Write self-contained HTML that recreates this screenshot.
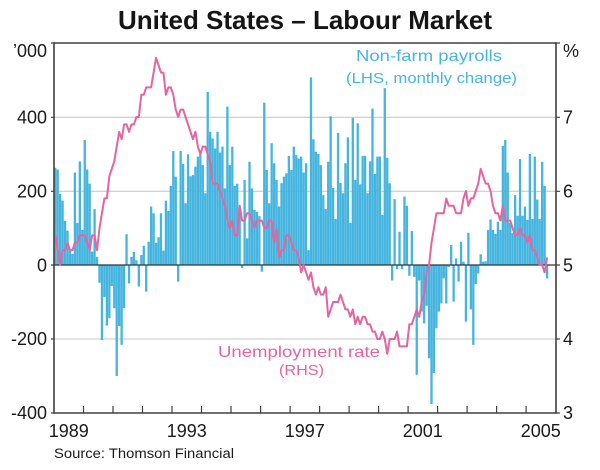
<!DOCTYPE html>
<html><head><meta charset="utf-8"><style>
html,body{margin:0;padding:0;background:#fff;}
svg{display:block;}
text{font-family:"Liberation Sans",Arial,sans-serif;}
</style></head><body>
<svg width="600" height="470" viewBox="0 0 600 470" xmlns="http://www.w3.org/2000/svg">
<rect width="600" height="470" fill="#fff"/>
<text x="305" y="29" text-anchor="middle" font-size="26" font-weight="bold" fill="#151515" textLength="374" lengthAdjust="spacingAndGlyphs">United States – Labour Market</text>
<g stroke="#c4c4c4" stroke-width="1">
<line x1="54" y1="117.3" x2="556" y2="117.3"/>
<line x1="54" y1="191.3" x2="556" y2="191.3"/>
<line x1="54" y1="339" x2="556" y2="339"/>
</g>
<path transform="translate(54,265) scale(2.4593,-0.37)" fill="#45b5e0" d="M0.03 0V263h.94V0zM1.03 0V258h.94V0zM2.03 0V192h.94V0zM3.03 0V174h.94V0zM4.03 0V119h.94V0zM5.03 0V93h.94V0zM6.03 0V40h.94V0zM7.03 0V30h.94V0zM8.03 0V250h.94V0zM9.03 0V114h.94V0zM10.03 0V280h.94V0zM11.03 0V95h.94V0zM12.03 0V338h.94V0zM13.03 0V258h.94V0zM14.03 0V220h.94V0zM15.03 0V36h.94V0zM16.03 0V151h.94V0zM17.03 0V22h.94V0zM18.03 0V-48h.94V0zM19.03 0V-203h.94V0zM20.03 0V-86h.94V0zM21.03 0V-164h.94V0zM22.03 0V-144h.94V0zM23.03 0V-57h.94V0zM24.03 0V-117h.94V0zM25.03 0V-300h.94V0zM26.03 0V-165h.94V0zM27.03 0V-216h.94V0zM28.03 0V-117h.94V0zM29.03 0V83h.94V0zM30.03 0V-50h.94V0zM31.03 0V22h.94V0zM32.03 0V35h.94V0zM33.03 0V13h.94V0zM34.03 0V-58h.94V0zM35.03 0V27h.94V0zM36.03 0V52h.94V0zM37.03 0V-72h.94V0zM38.03 0V63h.94V0zM39.03 0V158h.94V0zM40.03 0V140h.94V0zM41.03 0V60h.94V0zM42.03 0V75h.94V0zM43.03 0V140h.94V0zM44.03 0V39h.94V0zM45.03 0V174h.94V0zM46.03 0V146h.94V0zM47.03 0V214h.94V0zM48.03 0V308h.94V0zM49.03 0V239h.94V0zM50.03 0V-45h.94V0zM51.03 0V308h.94V0zM52.03 0V273h.94V0zM53.03 0V167h.94V0zM54.03 0V299h.94V0zM55.03 0V240h.94V0zM56.03 0V243h.94V0zM57.03 0V266h.94V0zM58.03 0V293h.94V0zM59.03 0V302h.94V0zM60.03 0V270h.94V0zM61.03 0V194h.94V0zM62.03 0V468h.94V0zM63.03 0V360h.94V0zM64.03 0V342h.94V0zM65.03 0V315h.94V0zM66.03 0V360h.94V0zM67.03 0V304h.94V0zM68.03 0V320h.94V0zM69.03 0V207h.94V0zM70.03 0V428h.94V0zM71.03 0V270h.94V0zM72.03 0V320h.94V0zM73.03 0V214h.94V0zM74.03 0V220h.94V0zM75.03 0V153h.94V0zM76.03 0V-8h.94V0zM77.03 0V230h.94V0zM78.03 0V72h.94V0zM79.03 0V279h.94V0zM80.03 0V207h.94V0zM81.03 0V149h.94V0zM82.03 0V144h.94V0zM83.03 0V132h.94V0zM84.03 0V-18h.94V0zM85.03 0V439h.94V0zM86.03 0V257h.94V0zM87.03 0V167h.94V0zM88.03 0V329h.94V0zM89.03 0V275h.94V0zM90.03 0V230h.94V0zM91.03 0V158h.94V0zM92.03 0V221h.94V0zM93.03 0V239h.94V0zM94.03 0V248h.94V0zM95.03 0V295h.94V0zM96.03 0V257h.94V0zM97.03 0V320h.94V0zM98.03 0V297h.94V0zM99.03 0V288h.94V0zM100.03 0V293h.94V0zM101.03 0V250h.94V0zM102.03 0V275h.94V0zM103.03 0V40h.94V0zM104.03 0V507h.94V0zM105.03 0V340h.94V0zM106.03 0V306h.94V0zM107.03 0V300h.94V0zM108.03 0V270h.94V0zM109.03 0V189h.94V0zM110.03 0V151h.94V0zM111.03 0V279h.94V0zM112.03 0V402h.94V0zM113.03 0V208h.94V0zM114.03 0V124h.94V0zM115.03 0V357h.94V0zM116.03 0V222h.94V0zM117.03 0V194h.94V0zM118.03 0V275h.94V0zM119.03 0V345h.94V0zM120.03 0V114h.94V0zM121.03 0V398h.94V0zM122.03 0V230h.94V0zM123.03 0V383h.94V0zM124.03 0V218h.94V0zM125.03 0V295h.94V0zM126.03 0V295h.94V0zM127.03 0V194h.94V0zM128.03 0V280h.94V0zM129.03 0V423h.94V0zM130.03 0V246h.94V0zM131.03 0V293h.94V0zM132.03 0V293h.94V0zM133.03 0V135h.94V0zM134.03 0V478h.94V0zM135.03 0V290h.94V0zM136.03 0V221h.94V0zM137.03 0V-42h.94V0zM138.03 0V178h.94V0zM139.03 0V-11h.94V0zM140.03 0V90h.94V0zM141.03 0V-11h.94V0zM142.03 0V185h.94V0zM143.03 0V160h.94V0zM144.03 0V-29h.94V0zM145.03 0V92h.94V0zM146.03 0V-32h.94V0zM147.03 0V-297h.94V0zM148.03 0V-42h.94V0zM149.03 0V-126h.94V0zM150.03 0V-158h.94V0zM151.03 0V-110h.94V0zM152.03 0V-252h.94V0zM153.03 0V-376h.94V0zM154.03 0V-292h.94V0zM155.03 0V-171h.94V0zM156.03 0V-126h.94V0zM157.03 0V-104h.94V0zM158.03 0V-36h.94V0zM159.03 0V-104h.94V0zM160.03 0V-5h.94V0zM161.03 0V54h.94V0zM162.03 0V-99h.94V0zM163.03 0V18h.94V0zM164.03 0V-45h.94V0zM165.03 0V63h.94V0zM166.03 0V9h.94V0zM167.03 0V-153h.94V0zM168.03 0V87h.94V0zM169.03 0V-120h.94V0zM170.03 0V-216h.94V0zM171.03 0V-51h.94V0zM172.03 0V-23h.94V0zM173.03 0V29h.94V0zM174.03 0V9h.94V0zM175.03 0V10h.94V0zM176.03 0V95h.94V0zM177.03 0V123h.94V0zM178.03 0V95h.94V0zM179.03 0V84h.94V0zM180.03 0V117h.94V0zM181.03 0V95h.94V0zM182.03 0V322h.94V0zM183.03 0V338h.94V0zM184.03 0V250h.94V0zM185.03 0V114h.94V0zM186.03 0V86h.94V0zM187.03 0V189h.94V0zM188.03 0V133h.94V0zM189.03 0V286h.94V0zM190.03 0V133h.94V0zM191.03 0V158h.94V0zM192.03 0V122h.94V0zM193.03 0V300h.94V0zM194.03 0V124h.94V0zM195.03 0V293h.94V0zM196.03 0V177h.94V0zM197.03 0V124h.94V0zM198.03 0V279h.94V0zM199.03 0V214h.94V0zM200.03 0V-36h.94V0z"/>
<line x1="54" y1="265" x2="556" y2="265" stroke="#333" stroke-width="1.3"/>
<polyline transform="translate(54,265) scale(2.4593,-74)" fill="none" stroke="#e6649f" stroke-width="2" stroke-linejoin="round" vector-effect="non-scaling-stroke" points="0.5,.4 1.5,.2 2.5,0 3.5,.2 4.5,.2 5.5,.3 6.5,.2 7.5,.2 8.5,.3 9.5,.3 10.5,.4 11.5,.4 12.5,.4 13.5,.3 14.5,.2 15.5,.4 16.5,.4 17.5,.2 18.5,.5 19.5,.7 20.5,.9 21.5,.9 22.5,1.2 23.5,1.3 24.5,1.4 25.5,1.6 26.5,1.8 27.5,1.7 28.5,1.9 29.5,1.9 30.5,1.8 31.5,1.9 32.5,1.9 33.5,2 34.5,2 35.5,2.3 36.5,2.3 37.5,2.4 38.5,2.4 39.5,2.4 40.5,2.6 41.5,2.8 42.5,2.7 43.5,2.6 44.5,2.6 45.5,2.3 46.5,2.4 47.5,2.4 48.5,2.3 49.5,2.1 50.5,2 51.5,2.1 52.5,2.1 53.5,2 54.5,1.9 55.5,1.8 56.5,1.7 57.5,1.8 58.5,1.6 59.5,1.5 60.5,1.6 61.5,1.6 62.5,1.5 63.5,1.4 64.5,1.1 65.5,1.1 66.5,1.1 67.5,1 68.5,.9 69.5,.8 70.5,.6 71.5,.5 72.5,.6 73.5,.4 74.5,.4 75.5,.8 76.5,.6 77.5,.6 78.5,.7 79.5,.7 80.5,.6 81.5,.5 82.5,.6 83.5,.6 84.5,.6 85.5,.5 86.5,.5 87.5,.6 88.5,.6 89.5,.3 90.5,.5 91.5,.1 92.5,.2 93.5,.2 94.5,.4 95.5,.4 96.5,.3 97.5,.2 98.5,.2 99.5,.1 100.5,-.1 101.5,0 102.5,-.1 103.5,-.2 104.5,-.1 105.5,-.3 106.5,-.4 107.5,-.3 108.5,-.4 109.5,-.4 110.5,-.3 111.5,-.7 112.5,-.6 113.5,-.5 114.5,-.5 115.5,-.5 116.5,-.4 117.5,-.5 118.5,-.6 119.5,-.6 120.5,-.7 121.5,-.6 122.5,-.8 123.5,-.7 124.5,-.8 125.5,-.7 126.5,-.7 127.5,-.8 128.5,-.8 129.5,-.9 130.5,-.9 131.5,-1 132.5,-1 133.5,-.9 134.5,-1 135.5,-1.2 136.5,-1 137.5,-1 138.5,-1 139.5,-.9 140.5,-1.1 141.5,-1.1 142.5,-1.1 143.5,-1.1 144.5,-.8 145.5,-.8 146.5,-.7 147.5,-.6 148.5,-.7 149.5,-.5 150.5,-.4 151.5,-.1 152.5,0 153.5,.3 154.5,.5 155.5,.7 156.5,.7 157.5,.7 158.5,.7 159.5,.9 160.5,.8 161.5,.8 162.5,.8 163.5,.7 164.5,.7 165.5,.7 166.5,.9 167.5,1 168.5,.8 169.5,.9 170.5,.9 171.5,1 172.5,1.1 173.5,1.3 174.5,1.2 175.5,1.1 176.5,1.1 177.5,1 178.5,.8 179.5,.7 180.5,.7 181.5,.6 182.5,.8 183.5,.6 184.5,.6 185.5,.6 186.5,.5 187.5,.4 188.5,.4 189.5,.5 190.5,.4 191.5,.4 192.5,.3 193.5,.4 194.5,.2 195.5,.2 196.5,.1 197.5,0 198.5,0 199.5,-.1 200.5,.1"/>
<g stroke="#404040" stroke-width="1.6" fill="none">
<line x1="54" y1="43" x2="556" y2="43"/>
<line x1="54" y1="42.2" x2="54" y2="413.5"/>
<line x1="556" y1="42.2" x2="556" y2="413.5"/>
<line x1="53.2" y1="413" x2="556.8" y2="413"/>
</g>
<g stroke="#404040" stroke-width="1.2">
<path d="M83.5 413V406M113 413V406M142.5 413V406M172 413V406M201.5 413V406M231 413V406M260.6 413V406M290.1 413V406M319.6 413V406M349.1 413V406M378.6 413V406M408.1 413V406M437.6 413V406M467.1 413V406M496.6 413V406M526.1 413V406"/>
<path d="M556 43h4M556 117.3h4M556 191.3h4M556 265h4M556 339h4M556 413h4M51 43h3M51 117.3h3M51 191.3h3M51 265h3M51 339h3M51 413h3"/>
</g>
<g font-size="18" fill="#1a1a1a">
<text x="47" y="57" text-anchor="end">’000</text>
<text x="47" y="123.5" text-anchor="end">400</text>
<text x="47" y="197.5" text-anchor="end">200</text>
<text x="47" y="271.3" text-anchor="end">0</text>
<text x="47" y="345.2" text-anchor="end">-200</text>
<text x="47" y="419" text-anchor="end">-400</text>
<text x="563" y="57">%</text>
<text x="563" y="123.5">7</text>
<text x="563" y="197.5">6</text>
<text x="563" y="271.3">5</text>
<text x="563" y="345.2">4</text>
<text x="563" y="419">3</text>
<text x="68.8" y="437" text-anchor="middle">1989</text>
<text x="186.8" y="437" text-anchor="middle">1993</text>
<text x="304.8" y="437" text-anchor="middle">1997</text>
<text x="422.8" y="437" text-anchor="middle">2001</text>
<text x="540.8" y="437" text-anchor="middle">2005</text>
</g>
<text x="54" y="458" font-size="13.5" fill="#1a1a1a" textLength="180" lengthAdjust="spacingAndGlyphs">Source: Thomson Financial</text>
<g fill="#45b5e0" font-size="16" text-anchor="middle">
<text x="429" y="61" textLength="146" lengthAdjust="spacingAndGlyphs">Non-farm payrolls</text>
<text x="431.5" y="83" font-size="15" textLength="171" lengthAdjust="spacingAndGlyphs">(LHS, monthly change)</text>
</g>
<g fill="#e6649f" font-size="16" text-anchor="middle">
<text x="299" y="357" textLength="162" lengthAdjust="spacingAndGlyphs">Unemployment rate</text>
<text x="301.5" y="375" font-size="15" textLength="45" lengthAdjust="spacingAndGlyphs">(RHS)</text>
</g>
</svg>
</body></html>
